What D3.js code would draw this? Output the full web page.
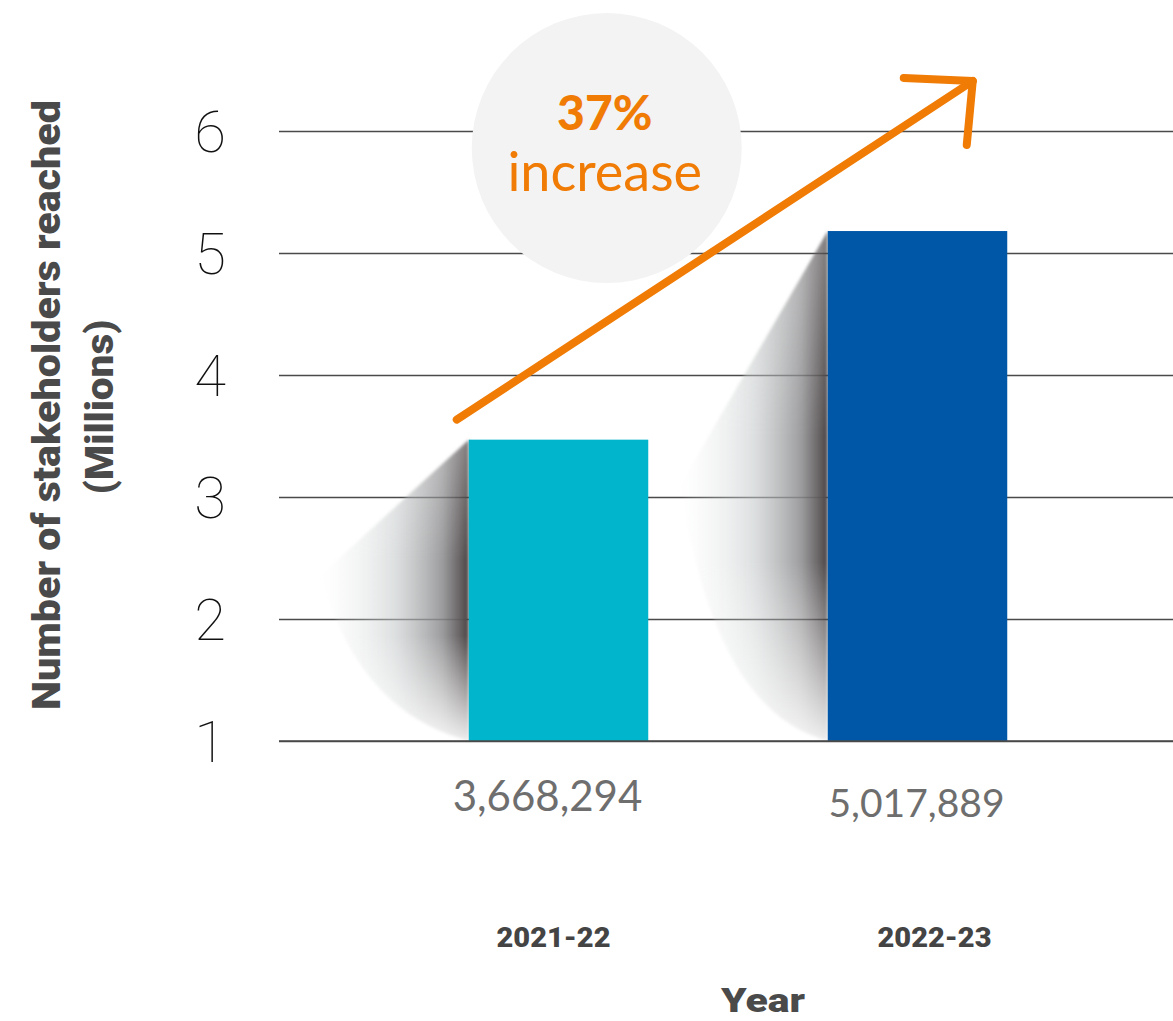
<!DOCTYPE html>
<html>
<head>
<meta charset="utf-8">
<script src="https://cdn.jsdelivr.net/npm/d3@7"></script>
<style>
  html, body { margin: 0; padding: 0; background: #ffffff; }
  svg { display: block; }
</style>
</head>
<body>
<svg id="chart" width="1173" height="1021"></svg>
<script>
// ---------- data ----------
const categories = ["2021-22", "2022-23"];
const barValues = [3.47, 5.18];              // bar heights as drawn on the axis (millions)
const valueLabels = ["3,668,294", "5,017,889"];
const yTicks = [1, 2, 3, 4, 5, 6];
const increaseLabel = ["37%", "increase"];
const yTitleLines = ["Number of stakeholders reached", "(Millions)"];
const xTitle = "Year";
const barColors = ["#00B5CC", "#0057A8"];

// ---------- layout ----------
const W = 1173, H = 1021;
const plotLeft = 279, plotRight = 1173;
const svg = d3.select("#chart");
const defs = svg.append("defs");

const x = d3.scaleBand().domain(categories).range([379, 1097]).paddingInner(0.5).paddingOuter(0.25);
const y = d3.scaleLinear().domain([1, 6]).range([741, 131]);
const orange = "#F07B05";

// ---------- gridlines + tick labels via axis ----------
const axis = d3.axisLeft(y).tickValues(yTicks).tickFormat(d3.format("d"))
  .tickSizeInner(-(plotRight - plotLeft)).tickSizeOuter(0).tickPadding(53);
const gAxis = svg.append("g").attr("transform", `translate(${plotLeft},0)`).call(axis);
gAxis.select(".domain").remove();
gAxis.selectAll(".tick line").attr("stroke", "#4a4a4a").attr("stroke-width", 1.5);
gAxis.selectAll(".tick text")
  .attr("fill", "#111111")
  .style("font-family", "Roboto, sans-serif")
  .style("font-weight", 100)
  .style("font-size", "58px")
  .attr("dy", "0.36em");

// ---------- shadows ----------
const blur = defs.append("filter").attr("id", "soft").attr("x", "-30%").attr("y", "-30%").attr("width", "160%").attr("height", "160%");
blur.append("feGaussianBlur").attr("stdDeviation", 1.5);

categories.forEach((c, i) => {
  const x0 = x(c), yTop = y(barValues[i]), yBot = y(1);
  const h = yBot - yTop;
  const gx = defs.append("linearGradient").attr("id", "shx" + i)
    .attr("gradientUnits", "userSpaceOnUse")
    .attr("x1", x0).attr("y1", 0).attr("x2", x0 - 150).attr("y2", 0);
  gx.append("stop").attr("offset", 0).attr("stop-color", "#4a4344").attr("stop-opacity", 1);
  gx.append("stop").attr("offset", 0.18).attr("stop-color", "#8c8c8e").attr("stop-opacity", 0.85);
  gx.append("stop").attr("offset", 0.5).attr("stop-color", "#c3c7c8").attr("stop-opacity", 0.55);
  gx.append("stop").attr("offset", 1).attr("stop-color", "#eceeef").attr("stop-opacity", 0);

  const gv = defs.append("linearGradient").attr("id", "shv" + i)
    .attr("gradientUnits", "userSpaceOnUse")
    .attr("x1", 0).attr("y1", yTop).attr("x2", 0).attr("y2", yBot);
  gv.append("stop").attr("offset", 0).attr("stop-color", "#fff").attr("stop-opacity", 0.7);
  gv.append("stop").attr("offset", 0.4).attr("stop-color", "#fff").attr("stop-opacity", 1);
  gv.append("stop").attr("offset", 0.65).attr("stop-color", "#fff").attr("stop-opacity", 1);
  gv.append("stop").attr("offset", 1).attr("stop-color", "#fff").attr("stop-opacity", 0.1);
  const m = defs.append("mask").attr("id", "shm" + i).attr("maskUnits", "userSpaceOnUse")
    .attr("x", 0).attr("y", 0).attr("width", W).attr("height", H);
  m.append("rect").attr("x", 0).attr("y", 0).attr("width", W).attr("height", H).attr("fill", `url(#shv${i})`);

  const xL = x0 - 148, yL = yTop + h * (i === 0 ? 0.45 : 0.5);
  const p = d3.path();
  p.moveTo(x0, yTop);
  p.lineTo(xL, yL);
  p.bezierCurveTo(xL + 25, yL + h * 0.3, x0 - 75, yBot - 20, x0, yBot);
  p.closePath();
  svg.append("path").attr("d", p.toString())
    .attr("fill", `url(#shx${i})`)
    .attr("mask", `url(#shm${i})`)
    .attr("filter", "url(#soft)");
});

// ---------- bars ----------
svg.append("g").selectAll("rect").data(categories).join("rect")
  .attr("x", d => x(d))
  .attr("y", (d, i) => y(barValues[i]))
  .attr("width", x.bandwidth())
  .attr("height", (d, i) => y(1) - y(barValues[i]))
  .attr("fill", (d, i) => barColors[i]);

// baseline redraw over bar bottoms
svg.append("line").attr("x1", plotLeft).attr("x2", plotRight).attr("y1", y(1)).attr("y2", y(1))
  .attr("stroke", "#4a4a4a").attr("stroke-width", 1.5);

// ---------- value labels ----------
svg.append("g").selectAll("text").data(valueLabels).join("text")
  .attr("x", (d, i) => x(categories[i]) + x.bandwidth() / 2 - (i === 0 ? 11 : 1))
  .attr("y", (d, i) => i === 0 ? 811 : 817)
  .attr("text-anchor", "middle")
  .attr("fill", "#6e6e6e")
  .style("font-family", "Lato, sans-serif")
  .style("font-weight", 400)
  .style("font-size", (d, i) => i === 0 ? "42px" : "39px")
  .text(d => d);

// ---------- category labels ----------
svg.append("g").selectAll("text").data(categories).join("text")
  .attr("x", (d, i) => x(d) + x.bandwidth() / 2 + (i === 0 ? -5 : 17))
  .attr("y", 947)
  .attr("text-anchor", "middle")
  .attr("fill", "#444444")
  .style("font-family", "Roboto, sans-serif")
  .style("font-weight", 900)
  .style("font-size", "27px")
  .attr("textLength", 114)
  .attr("lengthAdjust", "spacingAndGlyphs")
  .text(d => d);

// x title
svg.append("text")
  .attr("x", 763).attr("y", 1012)
  .attr("text-anchor", "middle")
  .attr("fill", "#4a4a4a")
  .style("font-family", "Roboto, sans-serif")
  .style("font-weight", 900)
  .style("font-size", "34px")
  .attr("textLength", 84)
  .attr("lengthAdjust", "spacingAndGlyphs")
  .text(xTitle);

// y title
const yTitleLen = [610, 175];
yTitleLines.forEach((t, i) => {
  svg.append("text")
    .attr("transform", `translate(${i === 0 ? 60 : 113},${i === 0 ? 405 : 407}) rotate(-90)`)
    .attr("text-anchor", "middle")
    .attr("fill", "#4a4a4a")
    .style("font-family", "Roboto, sans-serif")
    .style("font-weight", 900)
    .style("font-size", "38px")
    .attr("textLength", yTitleLen[i])
    .attr("lengthAdjust", "spacingAndGlyphs")
    .text(t);
});

// ---------- annotation: circle + arrow ----------
const cx = x(categories[0]) + 138, cy = y(5.86);
svg.append("circle").attr("cx", cx).attr("cy", cy).attr("r", 135).attr("fill", "#F3F3F3");

svg.append("text").attr("x", cx - 2).attr("y", cy - 18)
  .attr("text-anchor", "middle").attr("fill", orange)
  .style("font-family", "Lato, sans-serif").style("font-weight", 900).style("font-size", "48px")
  .text(increaseLabel[0]);
svg.append("text").attr("x", cx - 2).attr("y", cy + 43)
  .attr("text-anchor", "middle").attr("fill", orange)
  .style("font-family", "Lato, sans-serif").style("font-weight", 400).style("font-size", "54px")
  .text(increaseLabel[1]);

// arrow anchored to bars
const ax1 = x(categories[0]) - 12, ay1 = y(barValues[0]) - 20;
const ax2 = x(categories[1]) + 145, ay2 = y(6.41);
const arrow = svg.append("g").attr("stroke", orange).attr("stroke-width", 8)
  .attr("stroke-linecap", "round").attr("fill", "none");
arrow.append("line").attr("x1", ax1).attr("y1", ay1).attr("x2", ax2).attr("y2", ay2);
arrow.append("polyline").attr("points", [[ax2 - 69, ay2 - 3], [ax2, ay2], [ax2 - 6, ay2 + 64]].map(p => p.join(",")).join(" "))
  .attr("stroke-linejoin", "round");
</script>
</body>
</html>
